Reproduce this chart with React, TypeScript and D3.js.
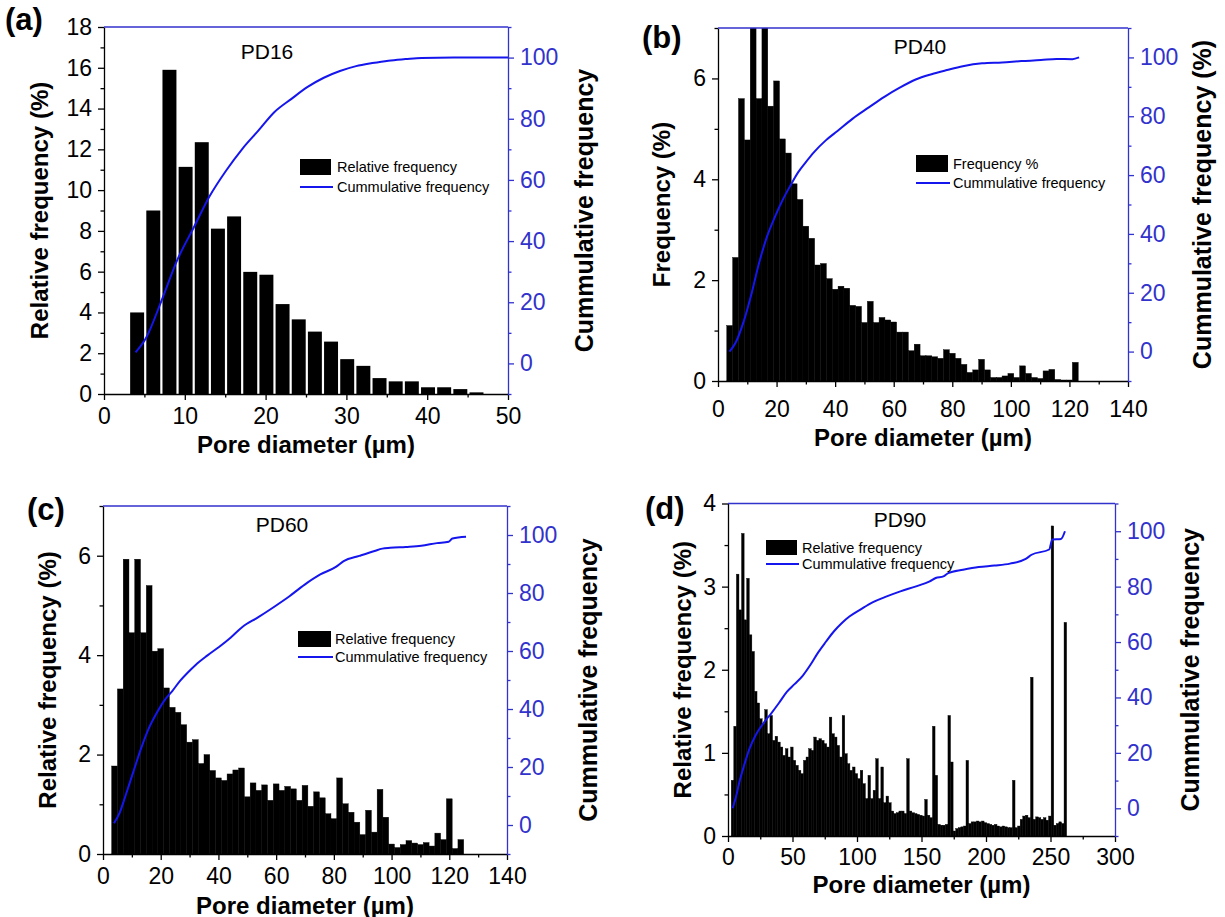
import React, { useEffect, useRef } from 'react';
import * as d3 from 'd3';

// ---------- data: (a) PD16 ----------
const pd16Freq = [4.0, 9.0, 15.9, 11.14, 12.35, 8.11, 8.71, 5.99, 5.85, 4.41, 3.66, 3.06, 2.57, 1.71, 1.38, 0.78, 0.62, 0.62, 0.33, 0.33, 0.24, 0.08];
const pd16BinStart = 3.1;
const pd16CumX = [3.9, 5.2, 7.1, 9.1, 11.1, 13.1, 15.1, 17.1, 19.1, 21.1, 23.2, 25.2, 27.2, 29.2, 31.2, 33.2, 35.2, 37.3, 39.3, 43.3, 47.3, 50];
const pd16CumY = [3.6, 8.3, 20.4, 34, 44.4, 54.8, 63, 70.1, 76.1, 82.2, 86.5, 90.4, 93.4, 95.6, 97.2, 98.2, 99, 99.5, 99.9, 100, 100, 100];

// ---------- data: (b) PD40 ----------
const pd40Freq = [1.1, 2.45, 5.6, 4.78, 7.5, 5.6, 7.5, 5.45, 5.95, 4.8, 4.52, 3.91, 3.6, 3.07, 2.83, 2.3, 2.33, 2.03, 1.82, 1.88,
  1.84, 1.5, 1.48, 1.16, 1.58, 1.16, 1.26, 1.21, 1.17, 0.97, 0.97, 0.6, 0.73, 0.5, 0.5, 0.48, 0.45, 0.62, 0.55, 0.45,
  0.33, 0.17, 0.22, 0.43, 0.22, 0.07, 0.07, 0.1, 0.15, 0.07, 0.3, 0.15, 0.07, 0.05, 0.2, 0.23, 0.03, 0.02, 0.02, 0.37];
const pd40BinStart = 3;
const pd40CumX = [3.9, 6, 8.7, 11.4, 14, 16.7, 19.4, 22, 24.7, 27.4, 30, 32.8, 36.8, 40.8, 46, 51.5, 56.8, 62.2, 67.5, 72.9, 78.2, 83.6, 90.2, 97, 103.6, 110.3, 115.6, 121, 123.3];
const pd40CumY = [0, 3, 10, 19.5, 30, 39, 45.7, 51.4, 56.4, 61, 64.4, 67.8, 71.8, 75, 79.2, 83, 86.6, 89.8, 92.5, 94.3, 95.7, 97, 98, 98.3, 98.75, 99.1, 99.5, 99.4, 100];

// ---------- data: (c) PD60 ----------
const pd60Freq = [1.77, 3.32, 5.93, 4.45, 5.93, 4.45, 5.4, 4.08, 4.13, 3.34, 2.95, 2.85, 2.6, 2.25, 2.3, 1.82, 2.0, 1.68, 1.53, 1.48,
  1.61, 1.69, 1.73, 1.15, 1.43, 1.28, 1.39, 1.08, 1.41, 1.28, 1.36, 1.31, 1.08, 1.38, 0.96, 1.25, 1.13, 0.81, 0.71, 1.53,
  1.01, 0.84, 0.64, 0.39, 0.88, 0.44, 1.3, 0.74, 0.2, 0.13, 0.19, 0.27, 0.22, 0.19, 0.23, 0.16, 0.42, 0.29, 1.11, 0.11, 0.29];
const pd60BinStart = 3;
const pd60CumX = [3.8, 5.8, 7.8, 10.5, 13.2, 15.9, 18.6, 21.3, 24, 26.7, 29.4, 32.1, 36.1, 40.2, 44.2, 48.3, 53.7, 59.1, 64.5, 69.9, 75.3, 80.7, 83.4, 88.8, 94.1, 96.8, 99.5, 104.9, 110.3, 115.7, 119.8, 121.1, 125.8];
const pd60CumY = [0.6, 4.3, 10.1, 18.3, 26.4, 33.4, 38.6, 43, 46.2, 49.7, 52.6, 55.2, 58.4, 61.4, 64.6, 68.3, 71.6, 75.1, 78.8, 82.9, 86.4, 89, 91, 92.8, 94.5, 95.3, 95.6, 95.9, 96.3, 97.2, 97.7, 98.8, 99.4];

// ---------- data: (d) PD90 ----------
const pd90Freq = [0.67, 1.32, 3.15, 2.72, 3.64, 2.6, 3.1, 2.42, 2.22, 1.74, 1.6, 1.41, 1.35, 1.52, 1.23, 1.45, 1.15, 1.2, 1.13, 1.07,
  0.97, 1.05, 0.95, 1.07, 0.91, 0.85, 0.79, 0.75, 0.91, 0.95, 1.05, 1.03, 1.19, 1.15, 1.17, 1.15, 1.11, 1.07, 1.43, 1.23,
  1.19, 1.09, 0.95, 1.45, 0.99, 0.87, 0.79, 0.83, 0.75, 0.69, 0.79, 0.63, 0.45, 0.73, 0.45, 0.55, 0.93, 0.45, 0.83, 0.4,
  0.48, 0.4, 0.3, 0.27, 0.28, 0.3, 0.3, 0.27, 0.93, 0.3, 0.28, 0.27, 0.26, 0.25, 0.24, 0.44, 0.25, 0.22, 1.32, 0.73,
  0.14, 0.13, 0.13, 0.14, 1.45, 0.89, 0.06, 0.09, 0.1, 0.11, 0.12, 0.91, 0.15, 0.17, 0.17, 0.18, 0.17, 0.18, 0.16, 0.15,
  0.14, 0.13, 0.14, 0.12, 0.11, 0.12, 0.11, 0.1, 0.1, 0.67, 0.1, 0.12, 0.2, 0.24, 0.25, 0.22, 1.91, 0.2, 0.23, 0.22,
  0.2, 0.22, 0.19, 0.24, 3.73, 0.13, 0.15, 0.17, 0.15, 2.57];
const pd90BinStart = 2.5;
const pd90CumX = [3.6, 6.1, 9.1, 12.1, 16.7, 21.3, 27.3, 33.4, 39.5, 45.6, 51.6, 57.7, 63.8, 69.8, 75.9, 82, 88.1, 94.1, 103.2, 112.4, 121.5, 133.6, 145.8, 156.4, 161, 167, 170.7, 182.2, 194.3, 206.5, 218.6, 230.8, 235.3, 249, 251.4, 258.1, 261.2];
const pd90CumY = [0, 4, 10, 14.9, 21.5, 26.3, 30.6, 34.2, 38, 42, 44.8, 47.7, 51.7, 56.2, 60.1, 63.8, 66.8, 69.2, 71.9, 74.4, 76.2, 78.3, 80.1, 81.9, 83.1, 83.7, 84.9, 86.1, 87.1, 87.6, 88.3, 90, 91.5, 93.4, 97, 97.2, 100];

// ---------- ticks ----------
const cumTicks = [0, 20, 40, 60, 80, 100];
const cumMinor = [-10, 10, 30, 50, 70, 90, 110];
const xTicks50 = [0, 10, 20, 30, 40, 50];
const xMinor50 = [5, 15, 25, 35, 45];
const xTicks140 = [0, 20, 40, 60, 80, 100, 120, 140];
const xMinor140 = [10, 30, 50, 70, 90, 110, 130];
const xTicks300 = [0, 50, 100, 150, 200, 250, 300];
const xMinor300 = [25, 75, 125, 175, 225, 275];
const yTicks18 = [0, 2, 4, 6, 8, 10, 12, 14, 16, 18];
const yMinor18 = [1, 3, 5, 7, 9, 11, 13, 15, 17];
const yTicks7 = [0, 2, 4, 6];
const yMinor7 = [1, 3, 5, 7];
const yTicks4 = [0, 1, 2, 3, 4];
const yMinor4 = [0.5, 1.5, 2.5, 3.5];

const FONT = '"Liberation Sans", Arial, Helvetica, sans-serif';
const LINE_BLUE = '#1515ee';
const AXIS_BLUE = '#3232cc';
const fmt = (d: d3.NumberValue) => String(d);

type Spec = {
  id: string; tag: string; name: string;
  l: number; r: number; t: number; b: number;
  xMax: number; xMajor: number[]; xMinor: number[];
  yMax: number; yMajor: number[]; yMinor: number[];
  freq: number[]; binStart: number; binWidth: number; gap: number;
  cumX: number[]; cumY: number[];
  yTitle: string; rTitle: string; barLabel: string;
  yTitleX: number; rTitleX: number; xTitleY: number; xPad: number;
  tagX: number; tagY: number; nameX: number; nameY: number;
  legX: number; legY: number; legW: number; legH: number; legTextX: number; leg1: number; leg2: number; legLineY: number;
};

const panels: Spec[] = [
  {
    id: 'a', tag: '(a)', name: 'PD16', l: 104, r: 508, t: 27, b: 394,
    xMax: 50, xMajor: xTicks50, xMinor: xMinor50, yMax: 18, yMajor: yTicks18, yMinor: yMinor18,
    freq: pd16Freq, binStart: pd16BinStart, binWidth: 2, gap: 2.2, cumX: pd16CumX, cumY: pd16CumY,
    yTitle: 'Relative frequency (%)', rTitle: 'Cummulative frequency', barLabel: 'Relative frequency',
    yTitleX: 39, rTitleX: 584, xTitleY: 444, xPad: 8,
    tagX: 5, tagY: 30, nameX: 267, nameY: 59,
    legX: 300, legY: 159, legW: 31, legH: 16, legTextX: 337, leg1: 172, leg2: 192, legLineY: 187,
  },
  {
    id: 'b', tag: '(b)', name: 'PD40', l: 718, r: 1128, t: 28, b: 381,
    xMax: 140, xMajor: xTicks140, xMinor: xMinor140, yMax: 7, yMajor: yTicks7, yMinor: yMinor7,
    freq: pd40Freq, binStart: pd40BinStart, binWidth: 2, gap: 0, cumX: pd40CumX, cumY: pd40CumY,
    yTitle: 'Frequency (%)', rTitle: 'Cummulative frequency (%)', barLabel: 'Frequency %',
    yTitleX: 661, rTitleX: 1202, xTitleY: 437, xPad: 14,
    tagX: 642, tagY: 48, nameX: 920, nameY: 54,
    legX: 916, legY: 155, legW: 32, legH: 17, legTextX: 953, leg1: 169, leg2: 188, legLineY: 183,
  },
  {
    id: 'c', tag: '(c)', name: 'PD60', l: 103, r: 507, t: 506, b: 854,
    xMax: 140, xMajor: xTicks140, xMinor: xMinor140, yMax: 7, yMajor: yTicks7, yMinor: yMinor7,
    freq: pd60Freq, binStart: pd60BinStart, binWidth: 2, gap: 0, cumX: pd60CumX, cumY: pd60CumY,
    yTitle: 'Relative frequency (%)', rTitle: 'Cummulative frequency', barLabel: 'Relative frequency',
    yTitleX: 47, rTitleX: 588, xTitleY: 905, xPad: 8,
    tagX: 27, tagY: 520, nameX: 282, nameY: 532,
    legX: 298, legY: 631, legW: 33, legH: 16, legTextX: 335, leg1: 644, leg2: 662, legLineY: 657,
  },
  {
    id: 'd', tag: '(d)', name: 'PD90', l: 728, r: 1115, t: 503.5, b: 836,
    xMax: 300, xMajor: xTicks300, xMinor: xMinor300, yMax: 4, yMajor: yTicks4, yMinor: yMinor4,
    freq: pd90Freq, binStart: pd90BinStart, binWidth: 2, gap: 0, cumX: pd90CumX, cumY: pd90CumY,
    yTitle: 'Relative frequency (%)', rTitle: 'Cummulative frequency', barLabel: 'Relative frequency',
    yTitleX: 682, rTitleX: 1190, xTitleY: 884, xPad: 7,
    tagX: 645, tagY: 519, nameX: 900, nameY: 527,
    legX: 766, legY: 540, legW: 31, legH: 15, legTextX: 802, leg1: 553, leg2: 569, legLineY: 564,
  },
];

function Panel({ p }: { p: Spec }) {
  const ref = useRef<SVGGElement>(null);

  useEffect(() => {
    const g = d3.select(ref.current);
    g.selectAll('*').remove();

    const x = d3.scaleLinear().domain([0, p.xMax]).range([p.l, p.r]);
    const y = d3.scaleLinear().domain([0, p.yMax]).range([p.b, p.t]);
    const yc = d3.scaleLinear().domain([-10, 110]).range([p.b, p.t]);

    const clipId = 'clip-' + p.id;
    g.append('clipPath').attr('id', clipId).append('rect')
      .attr('x', p.l).attr('y', p.t).attr('width', p.r - p.l).attr('height', p.b - p.t);

    // histogram bars
    const bw = x(p.binWidth) - x(0);
    g.append('g').attr('clip-path', `url(#${clipId})`)
      .selectAll('rect').data(p.freq).join('rect')
      .attr('x', (_, i) => x(p.binStart + i * p.binWidth) + p.gap / 2)
      .attr('width', bw - p.gap)
      .attr('y', d => y(d))
      .attr('height', d => y(0) - y(d))
      .attr('fill', '#000')
      .attr('stroke', p.gap > 0 ? 'none' : '#000')
      .attr('stroke-width', 0.4);

    // cumulative line
    const line = d3.line<number>()
      .x((_, i) => x(p.cumX[i]))
      .y(d => yc(d))
      .curve(d3.curveMonotoneX);
    g.append('path').attr('d', line(p.cumY) || '')
      .attr('fill', 'none').attr('stroke', LINE_BLUE).attr('stroke-width', 2);

    const style = (sel: any, color: string) => {
      sel.attr('font-family', FONT).attr('font-size', 23).style('color', color);
      sel.select('.domain').attr('stroke-width', 1.3);
      sel.selectAll('.tick line').attr('stroke-width', 1.3);
    };

    // bottom axis
    const bx = g.append('g').attr('transform', `translate(0,${p.b})`)
      .call(d3.axisBottom(x).tickValues(p.xMajor).tickFormat(fmt).tickSize(6).tickSizeOuter(0).tickPadding(p.xPad));
    style(bx, '#000');
    const bxm = g.append('g').attr('transform', `translate(0,${p.b})`)
      .call(d3.axisBottom(x).tickValues(p.xMinor).tickSize(3.5).tickFormat(() => ''));
    bxm.select('.domain').remove();
    style(bxm, '#000');

    // left axis
    const ly = g.append('g').attr('transform', `translate(${p.l},0)`)
      .call(d3.axisLeft(y).tickValues(p.yMajor).tickFormat(fmt).tickSize(6).tickSizeOuter(0).tickPadding(6));
    style(ly, '#000');
    const lym = g.append('g').attr('transform', `translate(${p.l},0)`)
      .call(d3.axisLeft(y).tickValues(p.yMinor).tickSize(3.5).tickFormat(() => ''));
    lym.select('.domain').remove();
    style(lym, '#000');

    // right axis
    const ry = g.append('g').attr('transform', `translate(${p.r},0)`)
      .call(d3.axisRight(yc).tickValues(cumTicks).tickFormat(fmt).tickSize(6).tickSizeOuter(0).tickPadding(6));
    style(ry, AXIS_BLUE);
    const rym = g.append('g').attr('transform', `translate(${p.r},0)`)
      .call(d3.axisRight(yc).tickValues(cumMinor).tickSize(3.5).tickFormat(() => ''));
    rym.select('.domain').remove();
    style(rym, AXIS_BLUE);

    // top border
    g.append('line').attr('x1', p.l).attr('x2', p.r).attr('y1', p.t).attr('y2', p.t)
      .attr('stroke', AXIS_BLUE).attr('stroke-width', 1.3);

    // titles
    const midY = (p.t + p.b) / 2;
    g.append('text')
      .attr('transform', `translate(${p.yTitleX},${midY}) rotate(-90)`)
      .attr('text-anchor', 'middle').attr('dominant-baseline', 'central')
      .attr('font-family', FONT).attr('font-weight', 'bold').attr('font-size', 24)
      .text(p.yTitle);
    g.append('text')
      .attr('transform', `translate(${p.rTitleX},${midY}) rotate(-90)`)
      .attr('text-anchor', 'middle').attr('dominant-baseline', 'central')
      .attr('font-family', FONT).attr('font-weight', 'bold').attr('font-size', 25)
      .text(p.rTitle);
    g.append('text')
      .attr('x', (p.l + p.r) / 2).attr('y', p.xTitleY)
      .attr('text-anchor', 'middle').attr('dominant-baseline', 'central')
      .attr('font-family', FONT).attr('font-weight', 'bold').attr('font-size', 24)
      .text('Pore diameter (\u00b5m)');

    // panel tag and sample name
    g.append('text').attr('x', p.tagX).attr('y', p.tagY)
      .attr('font-family', FONT).attr('font-weight', 'bold').attr('font-size', 31)
      .text(p.tag);
    g.append('text').attr('x', p.nameX).attr('y', p.nameY).attr('text-anchor', 'middle')
      .attr('font-family', FONT).attr('font-size', 21)
      .text(p.name);

    // legend
    g.append('rect').attr('x', p.legX).attr('y', p.legY).attr('width', p.legW).attr('height', p.legH).attr('fill', '#000');
    g.append('line').attr('x1', p.legX).attr('x2', p.legX + p.legW + 2).attr('y1', p.legLineY).attr('y2', p.legLineY)
      .attr('stroke', LINE_BLUE).attr('stroke-width', 2);
    g.append('text').attr('x', p.legTextX).attr('y', p.leg1)
      .attr('font-family', FONT).attr('font-size', 14.5).text(p.barLabel);
    g.append('text').attr('x', p.legTextX).attr('y', p.leg2)
      .attr('font-family', FONT).attr('font-size', 14.5).text('Cummulative frequency');
  }, [p]);

  return <g ref={ref} />;
}

export default function App() {
  return (
    <svg width={1225} height={917} style={{ position: 'absolute', left: 0, top: 0, background: '#fff' }}>
      <rect x={0} y={0} width={1225} height={917} fill="#fff" />
      {panels.map(p => <Panel key={p.id} p={p} />)}
    </svg>
  );
}
